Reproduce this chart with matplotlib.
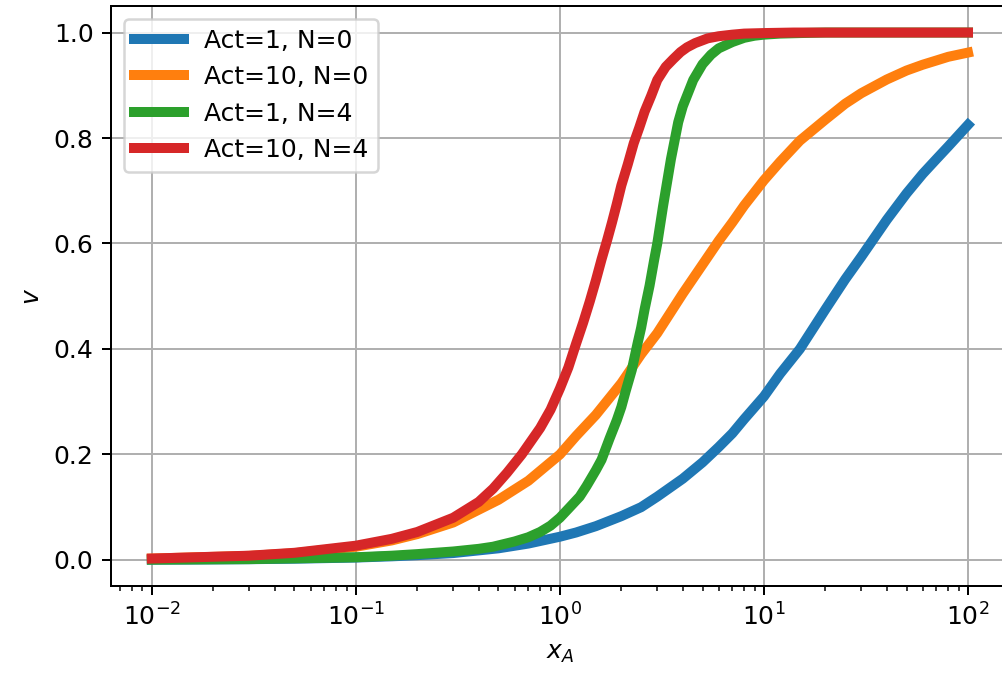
import matplotlib
matplotlib.use("Agg")
import matplotlib.pyplot as plt

# values
x_blue = [0.01, 0.015, 0.03, 0.05, 0.1, 0.15, 0.2, 0.3, 0.5, 0.7,
          1.0, 1.2, 1.5, 2.0, 2.5, 3.0, 4.0, 5.0, 6.0, 7.0,
          8.0, 10, 12, 15, 20, 25, 30, 40, 50, 60,
          70, 80, 100]
v_blue = [0.0005, 0.0007, 0.0014, 0.0023, 0.0045, 0.0068, 0.009, 0.013, 0.022, 0.031,
          0.044, 0.052, 0.064, 0.083, 0.10, 0.12, 0.154, 0.185, 0.214, 0.24,
          0.267, 0.31, 0.353, 0.40, 0.475, 0.532, 0.575, 0.645, 0.695, 0.732,
          0.76, 0.784, 0.825]

x_orange = [0.01, 0.03, 0.05, 0.1, 0.15, 0.2, 0.3, 0.5, 0.7, 1.0,
            1.2, 1.5, 2.0, 2.5, 3.0, 4.0, 5.0, 6.0, 7.0, 8.0,
            10, 12, 15, 20, 25, 30, 40, 50, 60, 70,
            80, 100]
v_orange = [0.0026, 0.0077, 0.0127, 0.025, 0.037, 0.049, 0.071, 0.114, 0.15, 0.20,
            0.235, 0.275, 0.335, 0.39, 0.43, 0.505, 0.56, 0.605, 0.64, 0.672,
            0.72, 0.755, 0.795, 0.835, 0.865, 0.885, 0.911, 0.928, 0.939, 0.947,
            0.954, 0.962]

x_green = [0.01, 0.03, 0.1, 0.15, 0.2, 0.3, 0.4, 0.47, 0.6, 0.7,
           0.8, 0.9, 1.0, 1.1, 1.25, 1.35, 1.5, 1.6, 1.75, 1.9,
           2.0, 2.1, 2.25, 2.4, 2.5, 2.6, 2.75, 2.9, 3.0, 3.2,
           3.5, 3.8, 4.0, 4.5, 5.0, 5.5, 6.0, 7.0, 8.0, 9.0,
           10, 12, 15, 20, 100]
v_green = [0.0005, 0.0015, 0.005, 0.008, 0.011, 0.016, 0.021, 0.025, 0.035, 0.043,
           0.053, 0.065, 0.08, 0.097, 0.12, 0.14, 0.17, 0.19, 0.23, 0.265,
           0.29, 0.32, 0.36, 0.41, 0.44, 0.475, 0.52, 0.57, 0.60, 0.67,
           0.76, 0.83, 0.86, 0.91, 0.94, 0.958, 0.97, 0.982, 0.99, 0.994,
           0.996, 0.998, 0.999, 1.0, 1.0]

x_red = [0.01, 0.03, 0.05, 0.1, 0.15, 0.2, 0.3, 0.4, 0.47, 0.55,
         0.65, 0.8, 0.9, 1.0, 1.1, 1.2, 1.3, 1.4, 1.5, 1.6,
         1.7, 1.8, 1.9, 2.0, 2.15, 2.3, 2.45, 2.6, 2.8, 3.0,
         3.3, 3.6, 3.9, 4.2, 4.6, 5.3, 6.0, 7.0, 8.0, 10,
         14, 20, 100]
v_red = [0.0026, 0.008, 0.0135, 0.027, 0.04, 0.053, 0.08, 0.11, 0.135, 0.165,
         0.20, 0.25, 0.285, 0.325, 0.365, 0.41, 0.45, 0.49, 0.53, 0.57,
         0.605, 0.64, 0.675, 0.71, 0.75, 0.79, 0.82, 0.85, 0.88, 0.91,
         0.935, 0.95, 0.963, 0.972, 0.98, 0.989, 0.993, 0.996, 0.998, 0.999,
         1.0, 1.0, 1.0]

labels = ["Act=1, N=0", "Act=10, N=0", "Act=1, N=4", "Act=10, N=4"]

fig = plt.figure(figsize=(1002 / 180, 687 / 180), dpi=180)
ax = fig.add_axes([0.1108, 0.147, 0.896, 0.844])

ax.plot(x_blue, v_blue, lw=4, label=labels[0])
ax.plot(x_orange, v_orange, lw=4, label=labels[1])
ax.plot(x_green, v_green, lw=4, label=labels[2])
ax.plot(x_red, v_red, lw=4, label=labels[3])

ax.set_xscale("log")
ax.set_xlabel("$x_A$")
ax.set_ylabel("$v$")
ax.grid(True)
ax.legend(loc="upper left")

fig.savefig("out.png", dpi=180)
